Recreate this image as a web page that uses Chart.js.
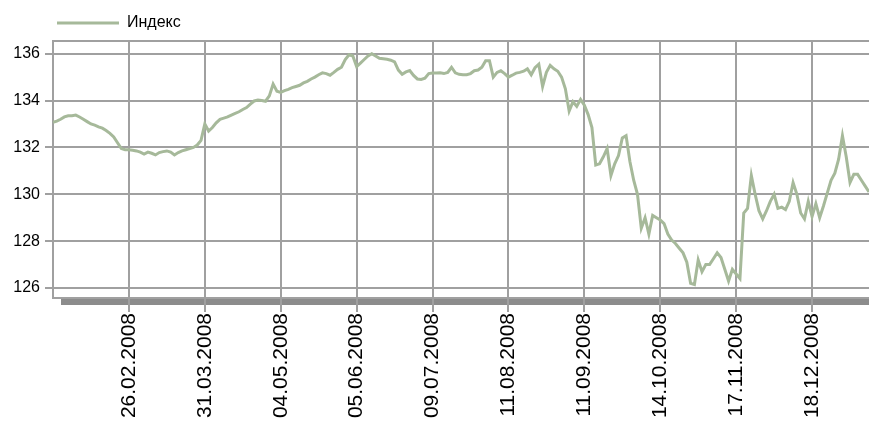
<!DOCTYPE html>
<html>
<head>
<meta charset="utf-8">
<script src="https://cdn.jsdelivr.net/npm/chart.js@4.4.1/dist/chart.umd.min.js"></script>
<style>
  html, body { margin: 0; padding: 0; background: #fff; }
  #wrap { width: 869px; height: 421px; }
</style>
</head>
<body>
<div id="wrap"><canvas id="indexChart" width="869" height="421"></canvas></div>
<script>
// Подписи делений по оси X (каждые 20 точек)
const tickDates = ['26.02.2008', '31.03.2008', '04.05.2008', '05.06.2008', '09.07.2008',
    '11.08.2008', '11.09.2008', '14.10.2008', '17.11.2008', '18.12.2008'];
const pointsPerTick = 20;

// Деления по оси Y
const yTicks = [126, 128, 130, 132, 134, 136];

// Значения индекса
const indexValues = [
    133.07, 133.12, 133.2, 133.3, 133.35, 133.35, 133.38, 133.3, 133.2, 133.1,
    133.0, 132.95, 132.88, 132.82, 132.72, 132.6, 132.45, 132.2, 131.95, 131.9,
    131.9, 131.88, 131.85, 131.8, 131.72, 131.8, 131.75, 131.68, 131.78, 131.82,
    131.85, 131.8, 131.68, 131.78, 131.85, 131.9, 131.95, 132.0, 132.1, 132.3,
    133.0, 132.7, 132.85, 133.05, 133.2, 133.25, 133.3, 133.38, 133.45, 133.52,
    133.62, 133.7, 133.85, 133.98, 134.02, 134.0, 133.97, 134.2, 134.7, 134.4,
    134.35, 134.42, 134.48, 134.55, 134.6, 134.65, 134.75, 134.82, 134.92, 135.0,
    135.1, 135.18, 135.15, 135.08, 135.2, 135.33, 135.42, 135.75, 135.95, 135.9,
    135.45, 135.6, 135.75, 135.9, 136.0, 135.9, 135.8, 135.78, 135.76, 135.72,
    135.65, 135.3, 135.12, 135.22, 135.28, 135.07, 134.92, 134.9, 134.95, 135.15,
    135.17, 135.17, 135.18, 135.15, 135.2, 135.42, 135.18, 135.12, 135.1, 135.1,
    135.15, 135.27, 135.3, 135.42, 135.7, 135.7, 135.0, 135.2, 135.27, 135.15,
    135.0, 135.08, 135.17, 135.2, 135.25, 135.35, 135.1, 135.4, 135.55, 134.6,
    135.2, 135.5, 135.35, 135.25, 135.0, 134.5, 133.55, 133.95, 133.75, 134.05,
    133.8, 133.4, 132.85, 131.25, 131.3, 131.6, 131.95, 130.8, 131.3, 131.65,
    132.4, 132.5, 131.4, 130.6, 130.0, 128.55, 129.0, 128.3, 129.1, 129.0,
    128.9, 128.75, 128.3, 128.05, 127.9, 127.7, 127.5, 127.1, 126.2, 126.15,
    127.2, 126.7, 127.0, 127.0, 127.25, 127.5, 127.3, 126.8, 126.3, 126.8,
    126.6, 126.4, 129.2, 129.4, 130.8, 130.0, 129.3, 128.95, 129.3, 129.7,
    130.0, 129.4, 129.45, 129.35, 129.7, 130.5, 130.0, 129.2, 128.95, 129.7,
    129.05, 129.6, 129.0, 129.5, 130.05, 130.6, 130.9, 131.5, 132.5, 131.6,
    130.5, 130.85, 130.85, 130.6, 130.35, 130.1
];

const lineColor = '#a6b99a';
const gridColor = '#a0a0a0';
const font = 'Arial, "Liberation Sans", sans-serif';

// тень под областью графика, верхняя рамка, сдвиг легенды
const framePlugin = {
    id: 'frame',
    afterLayout(chart) {
        chart.legend.left += 45;
        chart.legend.right += 45;
    },
    beforeDraw(chart) {
        const { ctx, chartArea: a } = chart;
        ctx.save();
        ctx.fillStyle = '#8c8c8c';
        ctx.fillRect(a.left + 8, a.bottom + 1, a.right - a.left - 8, 6);
        ctx.restore();
    },
    beforeDatasetsDraw(chart) {
        const { ctx, chartArea: a } = chart;
        ctx.save();
        ctx.strokeStyle = gridColor;
        ctx.lineWidth = 2;
        ctx.beginPath();
        ctx.moveTo(a.left, a.top);
        ctx.lineTo(a.right, a.top);
        ctx.stroke();
        ctx.restore();
    }
};

const ctx = document.getElementById('indexChart').getContext('2d');

new Chart(ctx, {
    type: 'line',
    data: {
        labels: indexValues.map((v, i) => i),
        datasets: [{
            label: 'Индекс',
            data: indexValues,
            borderColor: lineColor,
            backgroundColor: lineColor,
            borderWidth: 3,
            pointRadius: 0,
            tension: 0,
            fill: false
        }]
    },
    options: {
        responsive: false,
        animation: false,
        layout: { padding: { left: 0, right: 0, top: 3, bottom: 0 } },
        plugins: {
            tooltip: { enabled: false },
            legend: {
                position: 'top',
                align: 'start',
                labels: {
                    usePointStyle: true,
                    pointStyle: 'line',
                    pointStyleWidth: 62,
                    padding: 12,
                    color: '#000',
                    font: { family: font, size: 16 }
                }
            }
        },
        scales: {
            x: {
                type: 'linear',
                min: 0,
                max: indexValues.length - 1,
                afterBuildTicks: (scale) => {
                    scale.ticks = tickDates.map((d, k) => ({ value: (k + 1) * pointsPerTick }));
                },
                afterFit: (scale) => { scale.height = 123; },
                grid: { color: gridColor, lineWidth: 2, tickLength: 14 },
                border: { color: gridColor, width: 2 },
                ticks: {
                    autoSkip: false,
                    maxRotation: 90,
                    minRotation: 90,
                    padding: 1,
                    color: '#000',
                    font: { family: font, size: 21 },
                    callback: (value) => tickDates[value / pointsPerTick - 1]
                }
            },
            y: {
                min: 125.575,
                max: 136.54,
                afterBuildTicks: (scale) => {
                    scale.ticks = yTicks.map(v => ({ value: v }));
                },
                afterFit: (scale) => { scale.width = 53; },
                grid: { color: gridColor, lineWidth: 2, tickLength: 8 },
                border: { color: gridColor, width: 2 },
                ticks: {
                    padding: 5,
                    color: '#000',
                    font: { family: font, size: 16 }
                }
            }
        }
    },
    plugins: [framePlugin]
});
</script>
</body>
</html>
